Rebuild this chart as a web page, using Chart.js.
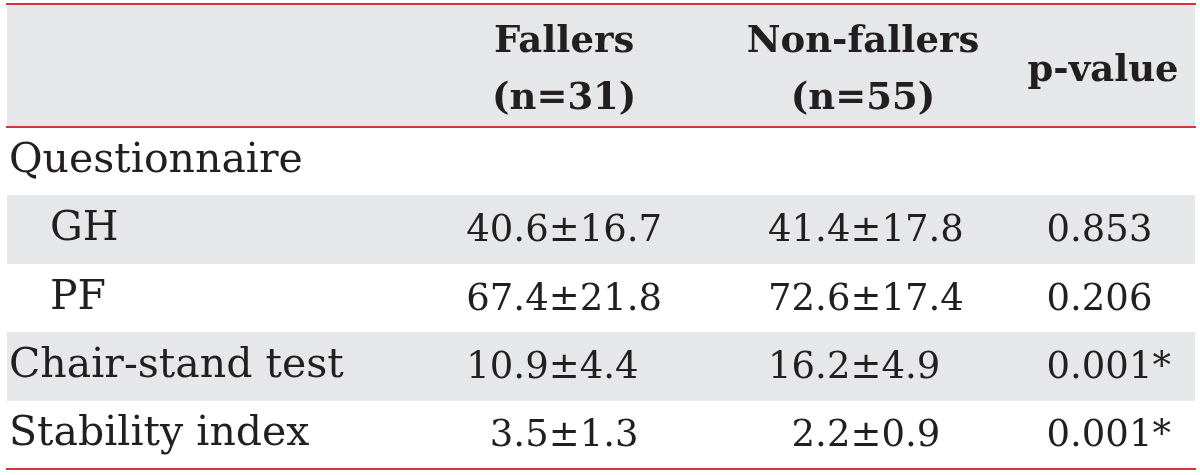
<!DOCTYPE html>
<html>
<head>
<meta charset="utf-8">
<script src="https://cdn.jsdelivr.net/npm/chart.js@4/dist/chart.umd.min.js"></script>
<style>
  body { margin: 0; background: #fff; }
  canvas { display: block; }
</style>
</head>
<body>
<canvas id="tableChart" width="1200" height="475"></canvas>
<script>
// table contents
const rowLabels = ['Questionnaire', 'GH', 'PF', 'Chair-stand test', 'Stability index'];
const subRow = [false, true, true, false, false];
const headerLabels = [['Fallers', '(n=31)'], ['Non-fallers', '(n=55)'], 'p-value'];
const fallersMean = [null, 40.6, 67.4, 10.9, 3.5];
const fallersSd = [null, 16.7, 21.8, 4.4, 1.3];
const nonFallersMean = [null, 41.4, 72.6, 16.2, 2.2];
const nonFallersSd = [null, 17.8, 17.4, 4.9, 0.9];
const pValues = [null, 0.853, 0.206, 0.001, 0.001];
const significant = [false, false, false, true, true];

// layout (fraction of table width)
const headerPos = [0.469, 0.7205, 0.9226];
const cellPos = [0.469, 0.723, 0.875];
const headerHeight = 123;

const ink = '#231f20';
const shade = '#e6e7e8';
const rule = '#d2353c';
const serif = "'DejaVu Serif'";

function drawPm(ctx, cx, py, mean, sd) {
    const half = ctx.measureText('\u00b1').width / 2;
    ctx.textAlign = 'center';
    ctx.fillText('\u00b1', cx, py);
    ctx.textAlign = 'right';
    ctx.fillText(mean.toFixed(1), cx - half, py);
    ctx.textAlign = 'left';
    ctx.fillText(sd.toFixed(1), cx + half, py);
}

const cellText = {
    id: 'cellText',
    afterDatasetsDraw(chart) {
        const ctx = chart.ctx;
        const x = chart.scales.x;
        const y = chart.scales.y;
        ctx.save();
        ctx.font = '37px ' + serif;
        ctx.fillStyle = ink;
        ctx.textBaseline = 'middle';
        rowLabels.forEach((_, i) => {
            if (fallersMean[i] == null) return;
            const py = y.getPixelForValue(i) + 2;
            drawPm(ctx, x.getPixelForValue(cellPos[0]), py, fallersMean[i], fallersSd[i]);
            drawPm(ctx, x.getPixelForValue(cellPos[1]), py, nonFallersMean[i], nonFallersSd[i]);
            ctx.textAlign = 'left';
            ctx.fillText(pValues[i].toFixed(3) + (significant[i] ? '*' : ''), x.getPixelForValue(cellPos[2]), py);
        });
        ctx.restore();
    }
};

const ctx = document.getElementById('tableChart').getContext('2d');
const tableChart = new Chart(ctx, {
    type: 'bar',
    data: {
        labels: rowLabels,
        datasets: [{
            data: rowLabels.map((_, i) => (i % 2 ? [0, 1] : null)),
            backgroundColor: shade,
            borderWidth: 0,
            barPercentage: 1,
            categoryPercentage: 1
        }]
    },
    options: {
        indexAxis: 'y',
        responsive: false,
        animation: false,
        layout: { padding: { top: 4, left: 3, right: 5, bottom: 5 } },
        plugins: { legend: { display: false }, tooltip: { enabled: false } },
        scales: {
            x: {
                type: 'linear',
                position: 'top',
                min: 0,
                max: 1,
                backgroundColor: shade,
                grid: { display: false, drawTicks: false },
                border: { display: true, color: rule, width: 2 },
                afterBuildTicks: (scale) => {
                    scale.ticks = headerPos.map(v => ({ value: v }));
                },
                afterFit: (scale) => {
                    scale.height = headerHeight;
                    scale.paddingLeft = 0;
                    scale.paddingRight = 0;
                },
                ticks: {
                    autoSkip: false,
                    maxRotation: 0,
                    minRotation: 0,
                    padding: 27.5,
                    crossAlign: 'center',
                    color: ink,
                    font: { family: serif, size: 37, weight: 'bold', lineHeight: 57 / 37 },
                    callback: (v, i) => headerLabels[i]
                }
            },
            xTop: {
                type: 'linear',
                position: 'top',
                weight: 1,
                grid: { display: false, drawTicks: false },
                ticks: { display: false },
                border: { display: true, color: rule, width: 2 }
            },
            xBottom: {
                type: 'linear',
                position: 'bottom',
                grid: { display: false, drawTicks: false },
                ticks: { display: false },
                border: { display: true, color: rule, width: 2 }
            },
            y: {
                type: 'category',
                position: 'left',
                offset: true,
                grid: { display: false, drawTicks: false },
                border: { display: false },
                ticks: {
                    mirror: true,
                    padding: 2,
                    z: 1,
                    color: ink,
                    font: { family: serif, size: 41, lineHeight: 0.2 },
                    callback: (v, i) => (subRow[i] ? '\u2003' : '') + rowLabels[i]
                }
            }
        }
    },
    plugins: [cellText]
});
</script>
</body>
</html>
